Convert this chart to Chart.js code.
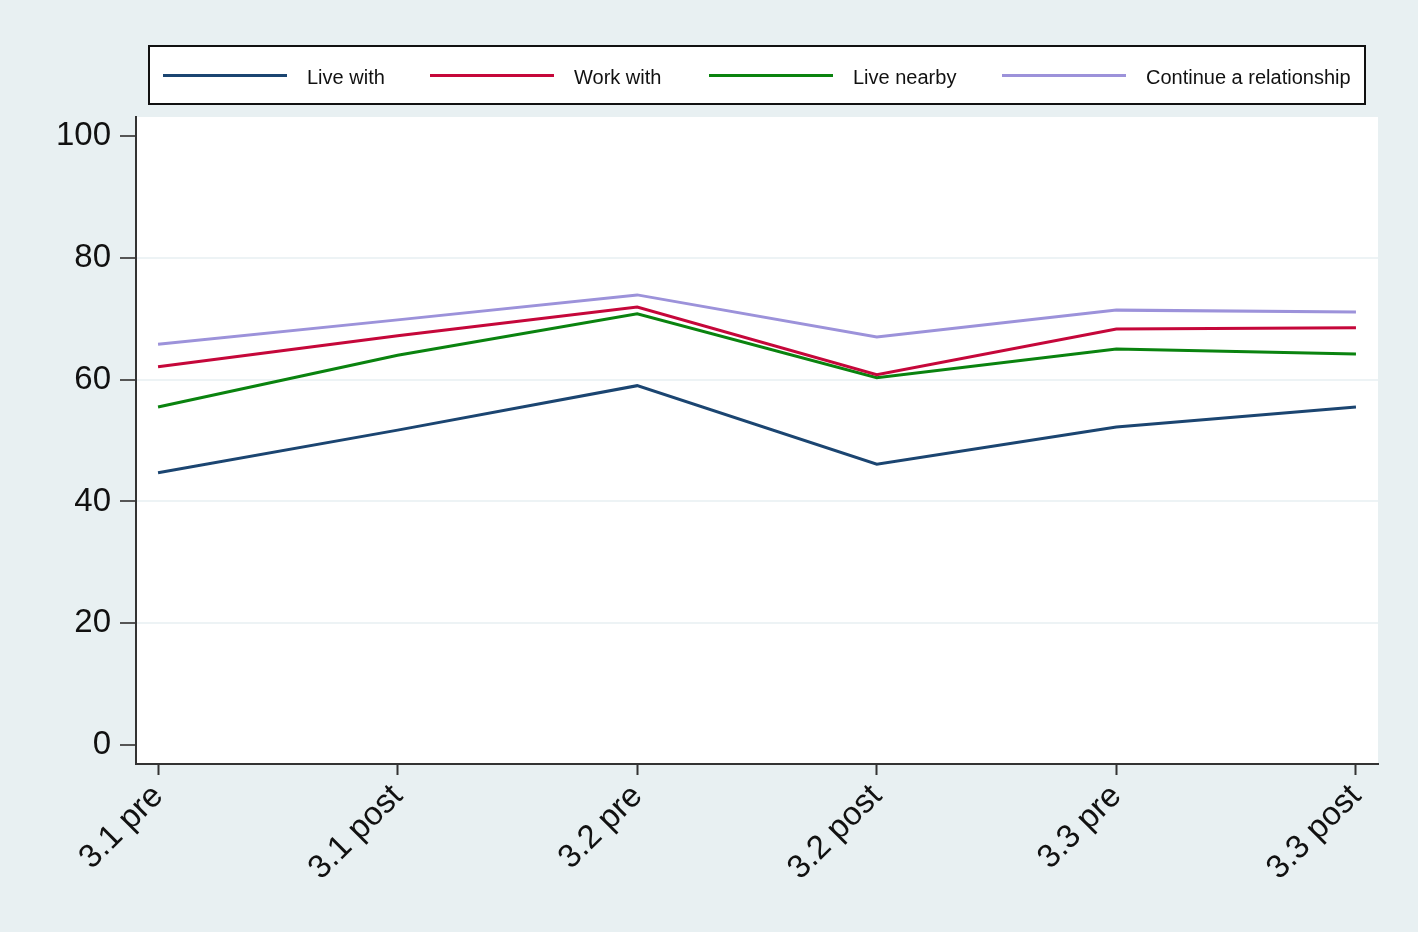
<!DOCTYPE html>
<html>
<head>
<meta charset="utf-8">
<script src="https://cdn.jsdelivr.net/npm/chart.js@4"></script>
<style>
  html, body { margin: 0; padding: 0; background: #e8f0f2; }
  #wrap { position: relative; width: 1418px; height: 932px; }
  #legend {
    position: absolute; left: 148px; top: 45px; width: 1214px; height: 56px;
    background: #fff; border: 2px solid #111;
    font-family: "Liberation Sans", Arial, sans-serif; font-size: 20px; color: #111;
  }
  .item { position: absolute; top: 0; height: 60px; display: flex; align-items: center; }
  .swatch { width: 124px; height: 3px; margin-right: 20px; margin-top: -3px; }
</style>
</head>
<body>
<div id="wrap">
  <canvas id="chart" width="1418" height="932"></canvas>
  <div id="legend"></div>
</div>
<script>
// ---------------------------------------------------------------
// DATA
// ---------------------------------------------------------------

const categories = ['3.1 pre', '3.1 post', '3.2 pre', '3.2 post', '3.3 pre', '3.3 post'];
const yTicks = [0, 20, 40, 60, 80, 100];

const liveWith = [44.7, 51.7, 59.0, 46.1, 52.2, 55.5];
const workWith = [62.1, 67.2, 71.9, 60.8, 68.3, 68.5];
const liveNearby = [55.5, 64.0, 70.8, 60.3, 65.0, 64.2];
const continueRel = [65.8, 69.8, 73.9, 67.0, 71.4, 71.1];

const seriesNames = ['Live with', 'Work with', 'Live nearby', 'Continue a relationship'];
const seriesValues = [liveWith, workWith, liveNearby, continueRel];
const seriesColors = ['#1b4571', '#c5073a', '#0a830f', '#9c92da'];

// legend x offsets inside the box (px)
const legendLefts = [13, 280, 559, 852];

// ---------------------------------------------------------------
// LEGEND (html)
// ---------------------------------------------------------------

const legend = document.getElementById('legend');
seriesNames.forEach((name, i) => {
  const item = document.createElement('div');
  item.className = 'item';
  item.style.left = legendLefts[i] + 'px';
  item.innerHTML = `<div class="swatch" style="background:${seriesColors[i]}"></div><span>${name}</span>`;
  legend.appendChild(item);
});

// ---------------------------------------------------------------
// CHART
// ---------------------------------------------------------------

const plotBg = {
  id: 'plotBg',
  beforeDraw(chart) {
    const { ctx, chartArea: a } = chart;
    ctx.save();
    ctx.fillStyle = '#ffffff';
    ctx.fillRect(a.left, a.top, a.right - a.left, a.bottom - a.top);
    ctx.restore();
  }
};

const tickFont = { family: '"Liberation Sans", Arial, sans-serif', size: 33 };

new Chart(document.getElementById('chart'), {
  type: 'line',
  data: {
    datasets: seriesNames.map((name, i) => ({
      label: name,
      data: seriesValues[i].map((v, j) => ({ x: j, y: v })),
      borderColor: seriesColors[i],
      borderWidth: 3,
      pointRadius: 0,
      tension: 0,
      fill: false
    }))
  },
  plugins: [plotBg],
  options: {
    responsive: false,
    animation: false,
    layout: { padding: { top: 117, right: 40, left: 0, bottom: 0 } },
    plugins: { legend: { display: false }, tooltip: { enabled: false } },
    scales: {
      x: {
        type: 'linear',
        min: -0.092,
        max: 5.092,
        afterBuildTicks: (s) => { s.ticks = categories.map((c, i) => ({ value: i })); },
        afterFit: (s) => { s.height = 168; },
        ticks: {
          autoSkip: false,
          minRotation: 45,
          maxRotation: 45,
          color: '#111',
          font: tickFont,
          padding: 2,
          callback: (v) => categories[v]
        },
        grid: { drawOnChartArea: false, tickLength: 11, tickColor: '#333', tickWidth: 2 },
        border: { color: '#333', width: 2 }
      },
      y: {
        min: -3.1,
        max: 103.1,
        afterBuildTicks: (s) => { s.ticks = yTicks.map((v) => ({ value: v })); },
        afterFit: (s) => { s.width = 136; },
        ticks: { color: '#111', font: tickFont, padding: 9 },
        grid: {
          tickLength: 16,
          tickColor: '#555',
          tickWidth: 2,
          color: (c) => (c.tick && (c.tick.value === 0 || c.tick.value === 100)) ? 'rgba(0,0,0,0)' : '#edf3f5',
          lineWidth: 2
        },
        border: { color: '#333', width: 2 }
      }
    }
  }
});
</script>
</body>
</html>
